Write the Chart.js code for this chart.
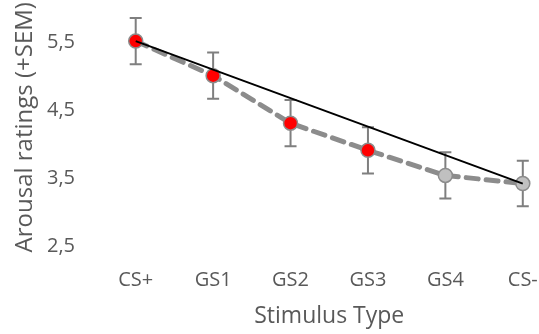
<!DOCTYPE html>
<html>
<head>
<meta charset="utf-8">
<script src="https://cdn.jsdelivr.net/npm/chart.js@4/dist/chart.umd.min.js"></script>
<style>
  html, body { margin: 0; padding: 0; background: #fff; overflow: hidden; }
  /* plot area runs half a category past the right edge of the page */
  #wrap { width: 570px; height: 334px; }
</style>
</head>
<body>
<div id="wrap"><canvas id="myChart"></canvas></div>
<script>
// stimulus types along the generalization gradient
const categories = ['CS+', 'GS1', 'GS2', 'GS3', 'GS4', 'CS-'];
// mean arousal ratings and standard errors
const arousal = [5.52, 5.01, 4.31, 3.91, 3.54, 3.42];
const sem = [0.34, 0.34, 0.34, 0.34, 0.34, 0.335];
// first four differ significantly from CS-
const significant = [true, true, true, true, false, false];
// straight reference line from CS+ to CS-
const reference = [5.52, null, null, null, null, 3.42];
const yTicks = [2.5, 3.5, 4.5, 5.5];

const textColor = '#595959';
const fontFamily = '"Open Sans", sans-serif';

const toPoints = arr => arr.map((v, i) => ({ x: i, y: v }));

// vertical SEM bars with caps, drawn under the lines
const errorBars = {
    id: 'errorBars',
    beforeDatasetsDraw(chart) {
        const { ctx, scales: { x, y } } = chart;
        ctx.save();
        ctx.strokeStyle = '#7f7f7f';
        ctx.lineWidth = 2;
        arousal.forEach((v, i) => {
            const px = x.getPixelForValue(i);
            const top = y.getPixelForValue(v + sem[i]);
            const bot = y.getPixelForValue(v - sem[i]);
            ctx.beginPath();
            ctx.moveTo(px, top);
            ctx.lineTo(px, bot);
            ctx.moveTo(px - 6, top);
            ctx.lineTo(px + 6, top);
            ctx.moveTo(px - 6, bot);
            ctx.lineTo(px + 6, bot);
            ctx.stroke();
        });
        ctx.restore();
    }
};

// axes keep no extra edge padding for their labels
const noEdgePadding = axis => {
    axis.paddingLeft = 0;
    axis.paddingRight = 0;
    axis.paddingTop = 0;
    axis.paddingBottom = 0;
};

new Chart(document.getElementById('myChart'), {
    type: 'line',
    data: {
        datasets: [{
            data: toPoints(reference),
            borderColor: '#000',
            borderWidth: 2,
            pointRadius: 0,
            spanGaps: true,
            order: 0
        }, {
            data: toPoints(arousal),
            borderColor: '#8c8c8c',
            borderWidth: 5,
            borderDash: [12, 8],
            borderCapStyle: 'round',
            pointRadius: 7,
            pointBorderWidth: 1.5,
            pointBorderColor: '#8c8c8c',
            pointBackgroundColor: significant.map(s => s ? '#ff0000' : '#c0c0c0'),
            order: 1
        }]
    },
    plugins: [errorBars],
    options: {
        responsive: true,
        maintainAspectRatio: false,
        animation: false,
        clip: false,
        layout: { padding: { top: 4, right: 0, left: 0, bottom: 0 } },
        plugins: { legend: { display: false }, tooltip: { enabled: false } },
        scales: {
            x: {
                type: 'linear',
                min: -0.5,
                max: 5.5,
                grid: { display: false, drawTicks: false },
                border: { display: false },
                afterBuildTicks: axis => { axis.ticks = categories.map((c, i) => ({ value: i })); },
                afterFit: axis => { noEdgePadding(axis); axis.height = 88; },
                ticks: {
                    padding: 22,
                    color: textColor,
                    font: { family: fontFamily, size: 20 },
                    callback: v => categories[v]
                },
                title: {
                    display: true,
                    text: 'Stimulus Type',
                    color: textColor,
                    font: { family: fontFamily, size: 23 },
                    padding: { top: 0, bottom: 4 }
                }
            },
            y: {
                min: 2.5,
                max: 6.0,
                grid: { display: false, drawTicks: false },
                border: { display: false },
                afterBuildTicks: axis => { axis.ticks = yTicks.map(v => ({ value: v })); },
                afterFit: axis => { noEdgePadding(axis); axis.width = 97; },
                ticks: {
                    padding: 22,
                    color: textColor,
                    font: { family: fontFamily, size: 20 },
                    callback: v => v.toFixed(1).replace('.', ',')
                },
                title: {
                    display: true,
                    text: 'Arousal ratings (+SEM)',
                    color: textColor,
                    font: { family: fontFamily, size: 24 },
                    padding: { top: 11, bottom: 0 }
                }
            }
        }
    }
});
</script>
</body>
</html>
